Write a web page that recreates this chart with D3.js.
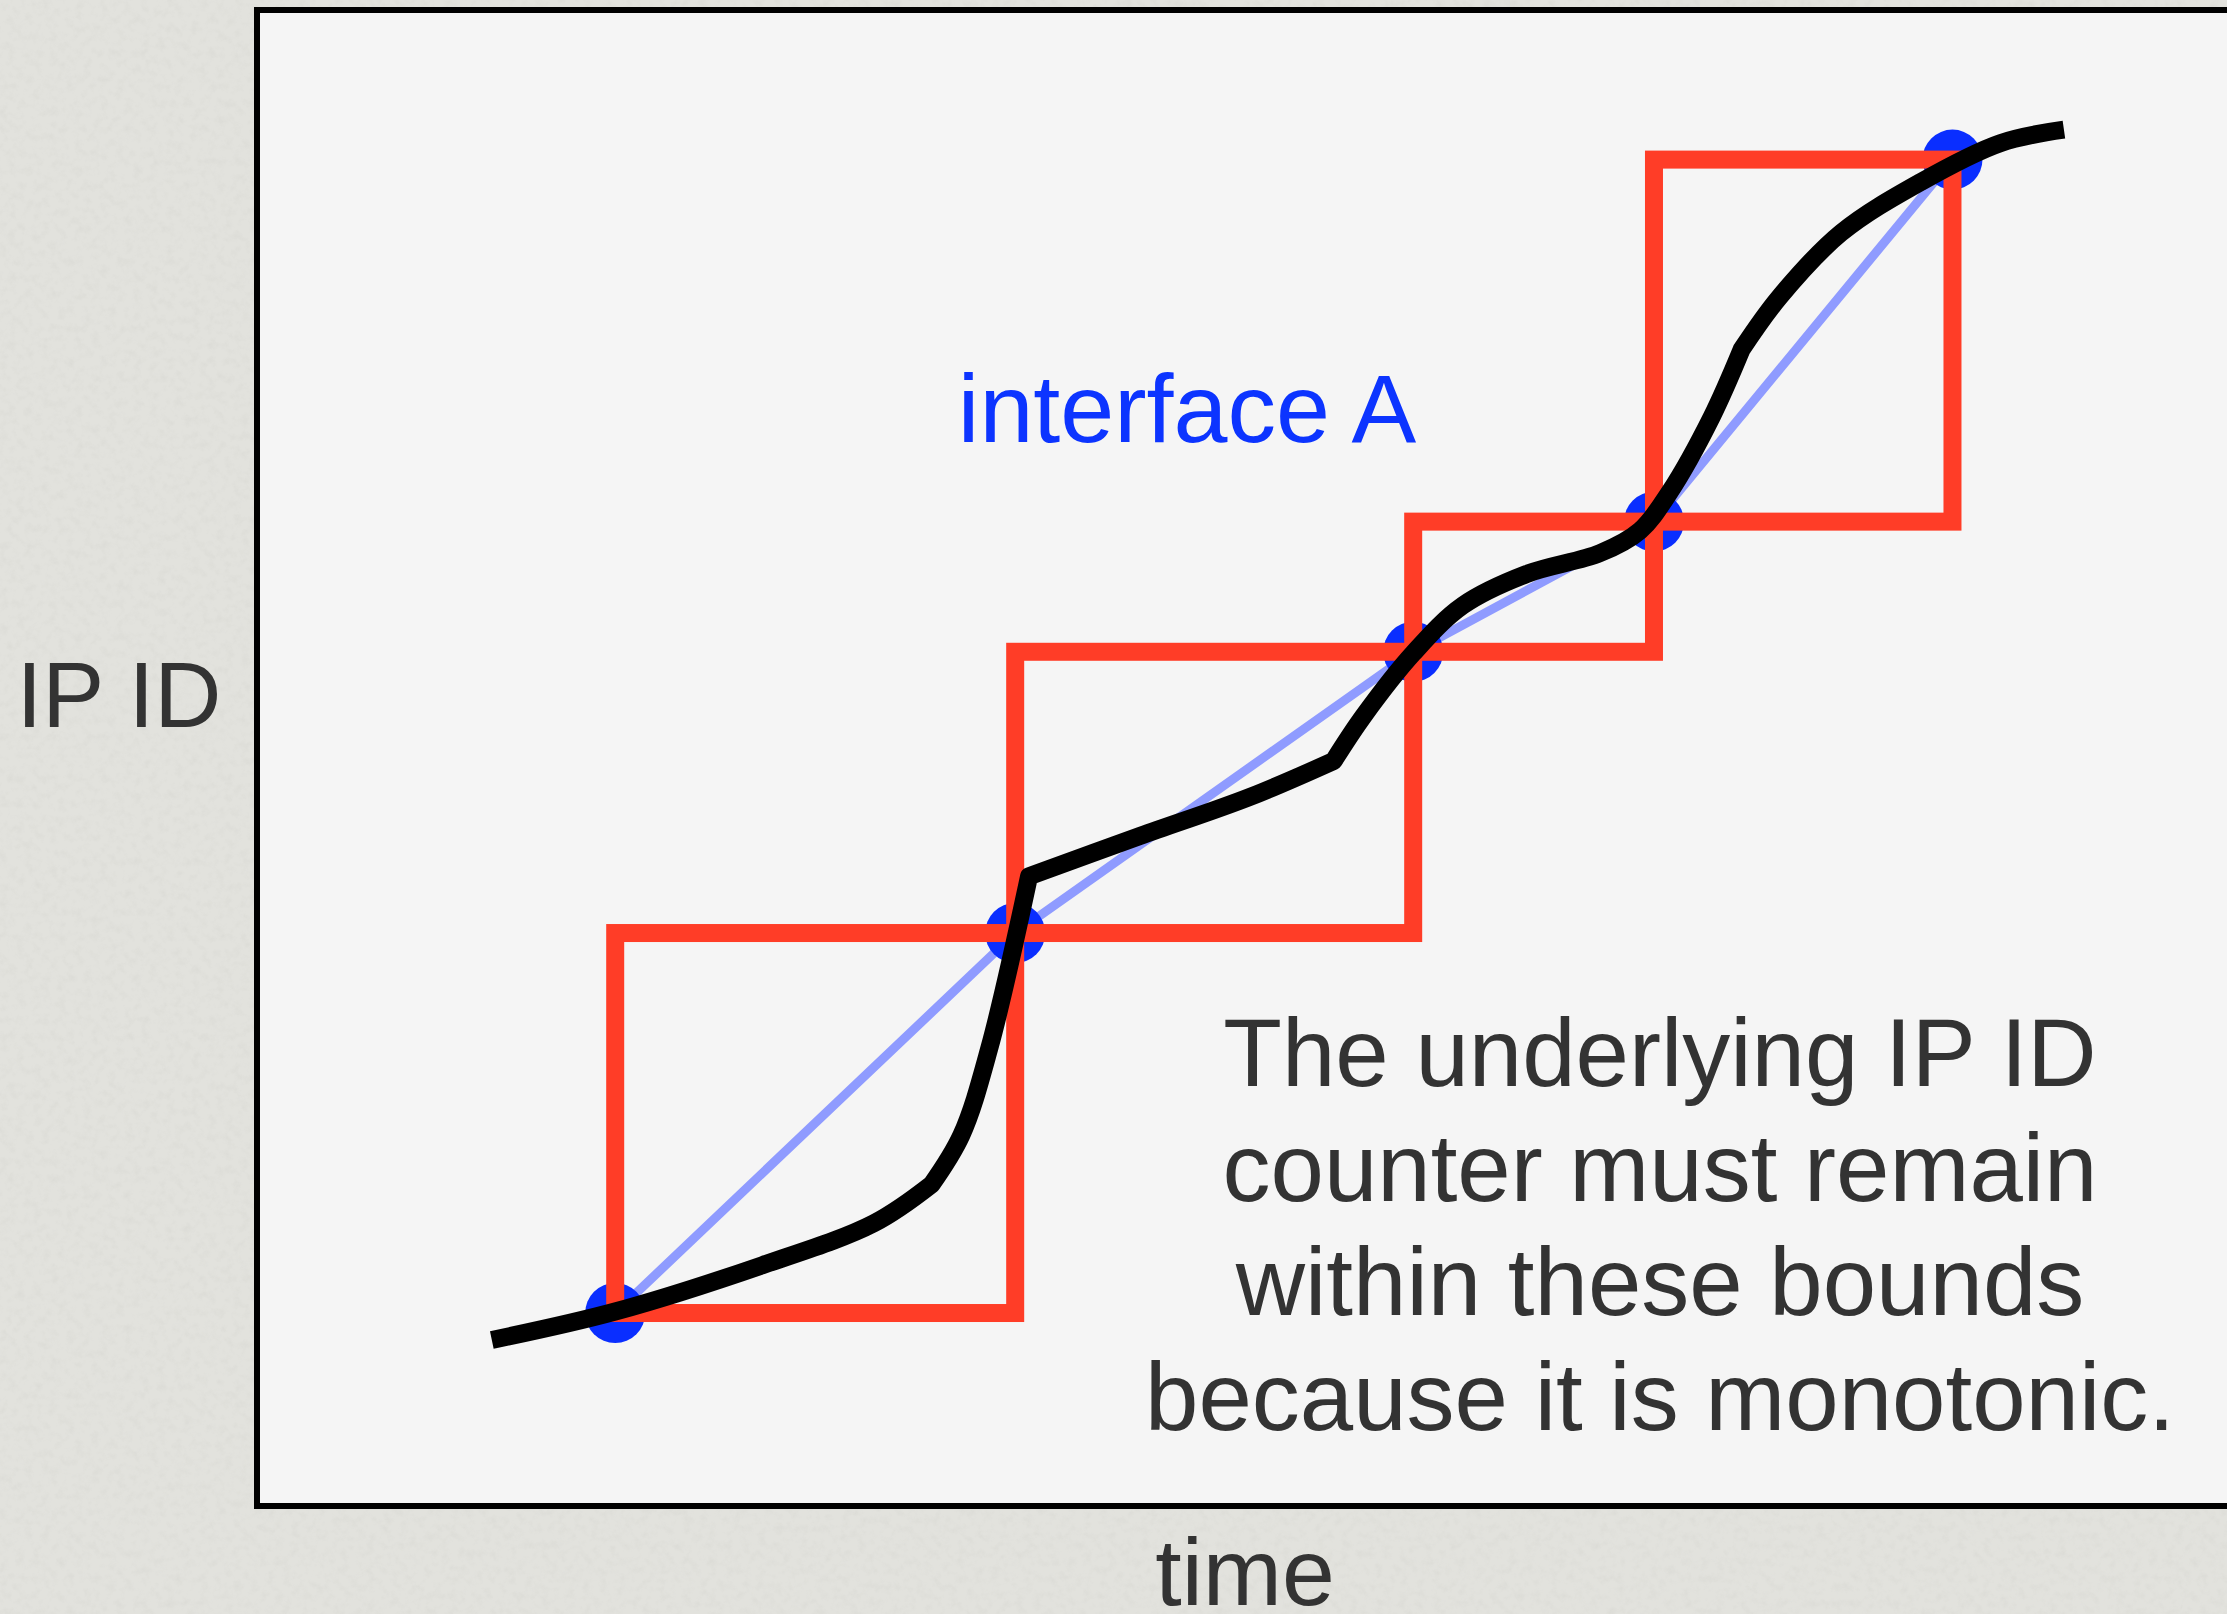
<!DOCTYPE html>
<html>
<head>
<meta charset="utf-8">
<script src="https://cdn.jsdelivr.net/npm/d3@7"></script>
<style>
  html, body { margin: 0; padding: 0; background: #dfdfda; overflow: hidden; }
  #chart { width: 2227px; height: 1614px; }
</style>
</head>
<body>
<div id="chart"></div>
<script>
// sampled IP ID values of interface A (time, IP ID on a 0-100 scale)
const sampleTimes = [18.0, 38.1, 58.1, 70.2, 85.2];
const sampleIds   = [12.9, 38.3, 57.1, 65.8, 90.0];

// the hidden counter, drawn piece by piece (it has corners between pieces)
const counterPartA = [[11.8, 11.1], [18.0, 13.0], [25.4, 16.1], [31.0, 18.9], [33.9, 21.5]];
const counterPartB = [[33.9, 21.5], [35.4, 24.8], [36.8, 30.6], [38.8, 42.1]];
const counterPartC = [[38.8, 42.1], [44.4, 44.8], [49.9, 47.4], [54.1, 49.8]];
const counterPartD = [[54.1, 49.8], [55.6, 52.8], [58.1, 57.0], [60.6, 60.2], [63.8, 62.3],
                      [67.5, 63.7], [69.5, 65.2], [71.0, 67.8], [73.1, 72.8], [74.6, 77.3]];
const counterPartE = [[74.6, 77.3], [76.5, 80.8], [79.6, 85.1], [83.6, 88.5], [87.6, 91.1], [90.8, 92.0]];

const xLabel = "time";
const yLabel = "IP ID";
const seriesLabel = "interface A";
const noteLines = ["The underlying IP ID", "counter must remain", "within these bounds", "because it is monotonic."];

const FONT = "'Liberation Sans', Arial, Helvetica, sans-serif";

const W = 2227, H = 1614;
const margin = {top: 10, left: 257};
const width = 1990;   // right edge runs off the page
const height = 1496;

const root = d3.select("#chart").append("svg")
    .attr("width", W)
    .attr("height", H);

// paper texture behind the slide
const defs = root.append("defs");
const noise = defs.append("filter").attr("id", "paper")
    .attr("x", 0).attr("y", 0).attr("width", "100%").attr("height", "100%");
noise.append("feTurbulence").attr("type", "fractalNoise")
    .attr("baseFrequency", 0.12).attr("numOctaves", 4).attr("seed", 7);
noise.append("feColorMatrix").attr("type", "matrix")
    .attr("values", "0 0 0 0 0.5  0 0 0 0 0.5  0 0 0 0 0.47  -0.9 0 0 0 0.5");

root.append("rect").attr("width", W).attr("height", H).attr("fill", "#e2e2dd");
root.append("rect").attr("width", W).attr("height", H).attr("filter", "url(#paper)").attr("opacity", 0.35);

const svg = root.append("g")
    .attr("transform", `translate(${margin.left},${margin.top})`);

const x = d3.scaleLinear().domain([0, 100]).range([0, width]);
const y = d3.scaleLinear().domain([0, 100]).range([height, 0]);

// plot frame
svg.append("rect")
    .attr("x", x(0)).attr("y", y(100))
    .attr("width", x(100) - x(0)).attr("height", y(0) - y(100))
    .attr("fill", "#f5f5f5")
    .attr("stroke", "#000")
    .attr("stroke-width", 6);

const samples = sampleTimes.map((t, i) => ({t: t, v: sampleIds[i]}));

// straight line through the samples
svg.append("path")
    .datum(samples)
    .attr("fill", "none")
    .attr("stroke", "#8f9bff")
    .attr("stroke-width", 9)
    .attr("d", d3.line().x(d => x(d.t)).y(d => y(d.v)));

// sample dots
svg.selectAll(".dot")
    .data(samples)
    .join("circle")
    .attr("class", "dot")
    .attr("cx", d => x(d.t))
    .attr("cy", d => y(d.v))
    .attr("r", 30)
    .attr("fill", "#0a2eff");

// bounding boxes between consecutive samples
const boxes = d3.pairs(samples);
svg.selectAll(".bound")
    .data(boxes)
    .join("rect")
    .attr("class", "bound")
    .attr("x", d => x(d[0].t))
    .attr("y", d => y(d[1].v))
    .attr("width", d => x(d[1].t) - x(d[0].t))
    .attr("height", d => y(d[0].v) - y(d[1].v))
    .attr("fill", "none")
    .attr("stroke", "#ff3d27")
    .attr("stroke-width", 18);

// underlying counter curve
const counterLine = d3.line()
    .x(d => x(d[0]))
    .y(d => y(d[1]))
    .curve(d3.curveCatmullRom.alpha(0.5));

const counterPath = [counterPartA, counterPartB, counterPartC, counterPartD, counterPartE]
    .map((part, i) => {
        const s = counterLine(part);
        return i === 0 ? s : s.replace(/^M/, "L");
    })
    .join("");

svg.append("path")
    .attr("d", counterPath)
    .attr("fill", "none")
    .attr("stroke", "#000")
    .attr("stroke-width", 18)
    .attr("stroke-linejoin", "round")
    .attr("stroke-linecap", "butt");

// labels
svg.append("text")
    .attr("x", 930).attr("y", 432)
    .attr("text-anchor", "middle")
    .attr("font-family", FONT)
    .attr("font-size", 97)
    .attr("fill", "#0c34ff")
    .text(seriesLabel);

svg.append("g")
    .selectAll("text")
    .data(noteLines)
    .join("text")
    .attr("x", 1403)
    .attr("y", (d, i) => 1076 + i * 114.7)
    .attr("text-anchor", "middle")
    .attr("font-family", FONT)
    .attr("font-size", 96)
    .attr("fill", "#333")
    .text(d => d);

root.append("text")
    .attr("x", 119).attr("y", 727)
    .attr("text-anchor", "middle")
    .attr("font-family", FONT)
    .attr("font-size", 93)
    .attr("fill", "#333")
    .text(yLabel);

root.append("text")
    .attr("x", 1245).attr("y", 1605)
    .attr("text-anchor", "middle")
    .attr("font-family", FONT)
    .attr("font-size", 95)
    .attr("fill", "#333")
    .text(xLabel);
</script>
</body>
</html>
